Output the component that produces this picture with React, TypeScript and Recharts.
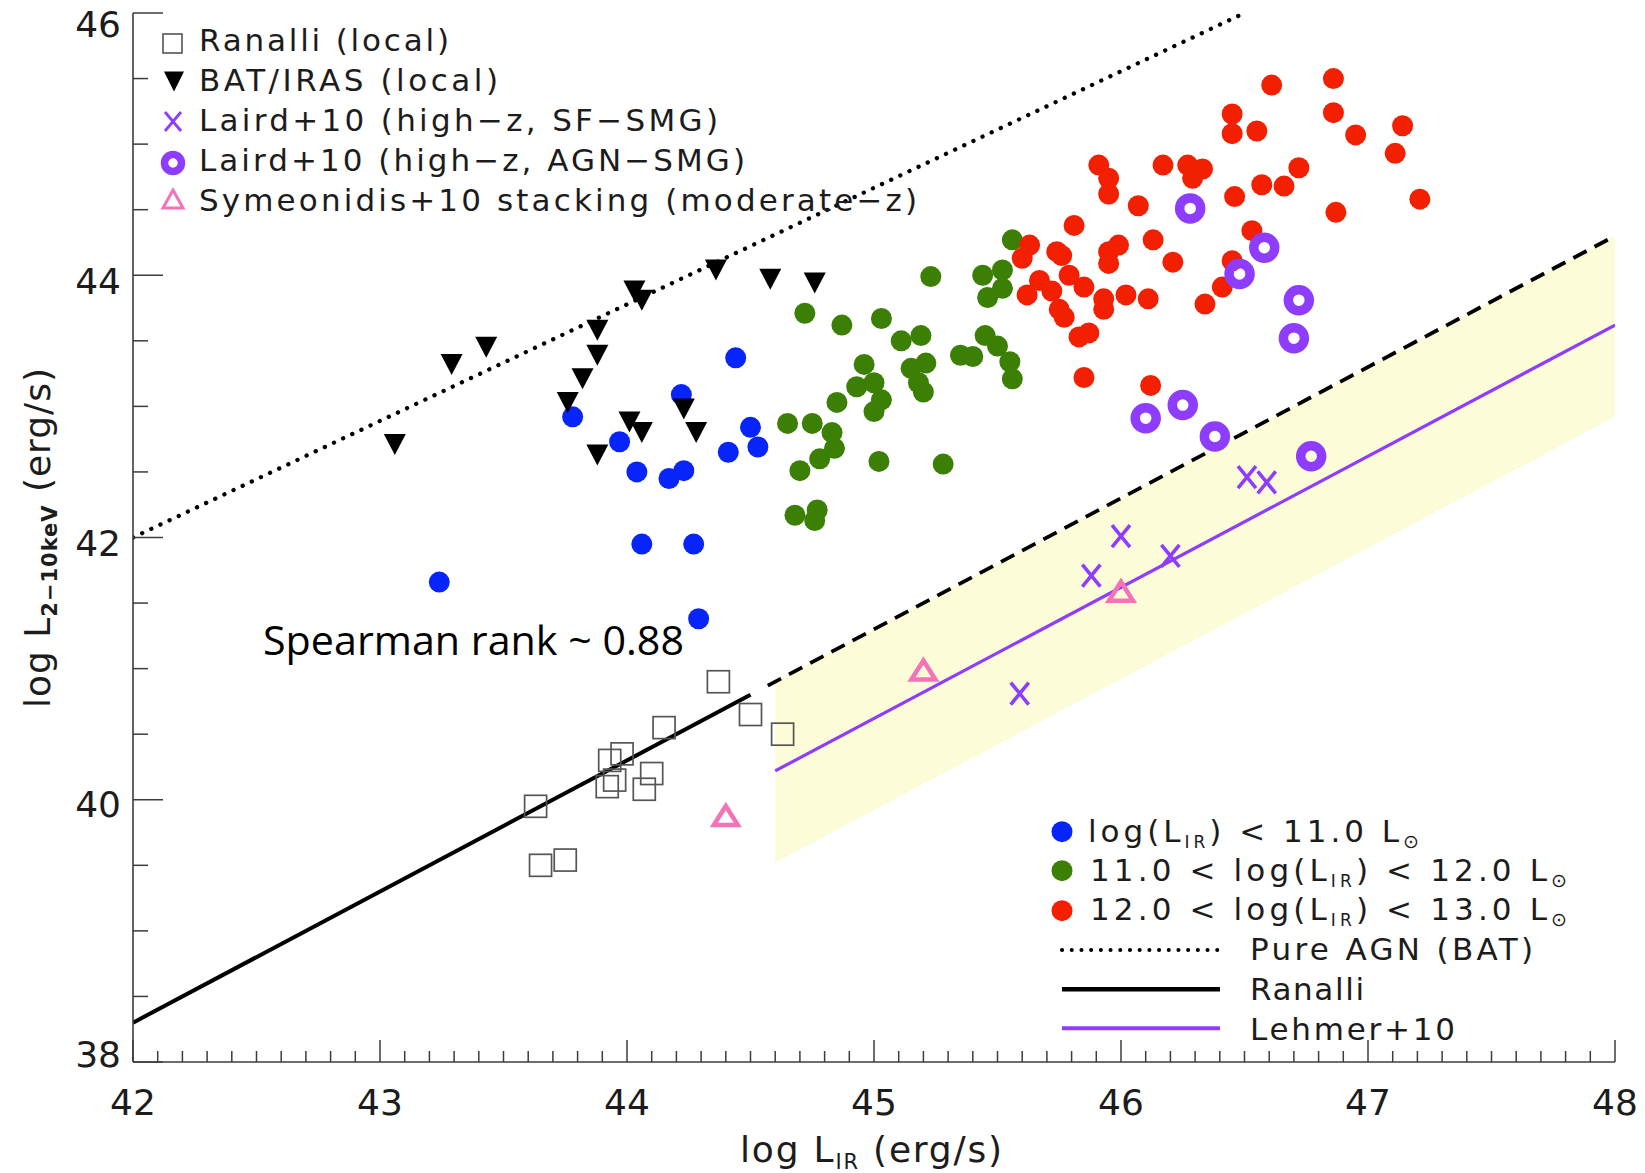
import React from 'react';
import { ComposedChart, XAxis, YAxis, Scatter, Line, Area } from 'recharts';

type Pt = [number, number];

// log L_IR (erg/s), log L_2-10keV (erg/s)
const lowLirPoints: Pt[] = [
  [43.24, 41.66], [43.78, 42.92], [43.97, 42.73], [44.04, 42.5], [44.06, 41.95],
  [44.17, 42.45], [44.22, 43.09], [44.23, 42.51], [44.27, 41.95], [44.29, 41.38],
  [44.41, 42.65], [44.44, 43.37], [44.5, 42.84], [44.53, 42.69],
];

const midLirPoints: Pt[] = [
  [44.65, 42.87], [44.68, 42.17], [44.7, 42.51], [44.72, 43.71], [44.75, 42.87],
  [44.76, 42.13], [44.77, 42.21], [44.78, 42.6], [44.83, 42.8], [44.84, 42.68],
  [44.85, 43.03], [44.87, 43.62], [44.93, 43.15], [44.96, 43.32], [45.0, 43.18],
  [45.0, 42.96], [45.02, 42.58], [45.03, 43.05], [45.03, 43.67], [45.11, 43.5],
  [45.15, 43.29], [45.18, 43.18], [45.19, 43.54], [45.2, 43.11], [45.21, 43.33],
  [45.23, 43.99], [45.28, 42.56], [45.35, 43.39], [45.4, 43.38], [45.44, 44.0],
  [45.45, 43.54], [45.46, 43.83], [45.5, 43.46], [45.52, 43.9], [45.52, 44.04],
  [45.55, 43.34], [45.56, 43.21], [45.56, 44.27],
];

const highLirPoints: Pt[] = [
  [45.6, 44.13], [45.62, 43.85], [45.63, 44.23], [45.67, 43.96], [45.72, 43.88],
  [45.74, 44.18], [45.76, 44.15], [45.75, 43.74], [45.77, 43.68], [45.79, 44.0],
  [45.81, 44.38], [45.83, 43.53], [45.87, 43.56], [45.85, 43.91], [45.85, 43.22],
  [45.91, 44.84], [45.95, 44.74], [45.95, 44.62], [45.93, 43.82], [45.93, 43.74],
  [45.95, 44.18], [45.99, 44.23], [45.95, 44.09], [46.02, 43.85], [46.07, 44.53],
  [46.11, 43.82], [46.12, 43.16], [46.13, 44.27], [46.17, 44.84], [46.21, 44.1],
  [46.27, 44.84], [46.29, 44.74], [46.33, 44.81], [46.34, 43.78], [46.41, 43.91],
  [46.45, 44.11], [46.46, 44.6], [46.45, 45.23], [46.45, 45.08], [46.53, 44.34],
  [46.55, 45.1], [46.57, 44.69], [46.61, 45.45], [46.66, 44.68], [46.72, 44.82],
  [46.86, 45.5], [46.86, 45.24], [46.87, 44.48], [46.95, 45.07], [47.11, 44.93],
  [47.14, 45.14], [47.21, 44.58],
];

const ranalliLocal: Pt[] = [
  [43.63, 39.95], [43.65, 39.5], [43.75, 39.54], [43.92, 40.1], [43.93, 40.3],
  [43.95, 40.15], [43.98, 40.35], [44.07, 40.08], [44.1, 40.2], [44.15, 40.55],
  [44.37, 40.9], [44.5, 40.65], [44.63, 40.5],
];

const batIrasLocal: Pt[] = [
  [43.06, 42.71], [43.29, 43.32], [43.43, 43.45], [43.76, 43.03], [43.82, 43.21],
  [43.88, 43.39], [43.88, 43.58], [43.88, 42.63], [44.01, 42.88], [44.03, 43.88],
  [44.06, 42.8], [44.06, 43.81], [44.23, 42.98], [44.28, 42.8], [44.36, 44.04],
  [44.58, 43.97], [44.76, 43.94],
];

const lairdSfSmg: Pt[] = [
  [45.59, 40.81], [45.88, 41.71], [46.0, 42.01], [46.2, 41.86], [46.51, 42.46], [46.59, 42.42],
];

const lairdAgnSmg: Pt[] = [
  [46.1, 42.91], [46.25, 43.01], [46.28, 44.51], [46.38, 42.77], [46.48, 44.01],
  [46.58, 44.21], [46.7, 43.52], [46.72, 43.81], [46.77, 42.62],
];

const symeonidisStack: Pt[] = [[44.4, 39.88], [45.2, 40.99], [46.0, 41.59]];

// relations
const pureAgnRelation: Pt[] = [[42, 42.0], [46.5, 46.0]];
const ranalliRelation: Pt[] = [[42, 38.3], [44.5, 40.8]];
const ranalliExtrapolation: Pt[] = [[44.57, 40.87], [48, 44.3]];
const lehmerRelation: Pt[] = [[44.6, 40.22], [48, 43.62]];
const lehmerBandX = [44.6, 48];
const lehmerBandLow = [39.52, 42.92];
const lehmerBandHigh = [40.9, 44.3];

const xMajorTicks = [42, 43, 44, 45, 46, 47, 48];
const yMajorTicks = [38, 40, 42, 44, 46];

const xTicks: number[] = [];
xMajorTicks.forEach((m, i) => {
  if (i === xMajorTicks.length - 1) { xTicks.push(m); return; }
  for (let k = 0; k < 10; k++) xTicks.push(Math.round((m + k / 10) * 10) / 10);
});
const yTicks: number[] = [];
yMajorTicks.forEach((m, i) => {
  if (i === yMajorTicks.length - 1) { yTicks.push(m); return; }
  for (let k = 0; k < 4; k++) yTicks.push(m + k / 2);
});

const rows = (pts: Pt[]) => pts.map(([x, y]) => ({ x, y }));
const bandRows = lehmerBandX.map((x, i) => ({ x, range: [lehmerBandLow[i], lehmerBandHigh[i]] }));

const BLUE = '#0724fb';
const GREEN = '#3b7f04';
const RED = '#f21f00';
const PURPLE = '#8e3dff';
const PINK = '#f472b6';
const BAND = '#fdfcd8';
const FRAME = '#3c3c3c';
const INK = '#1c1c1c';
const FONT = '"DejaVu Sans", sans-serif';

const filledDot = (fill: string) => (p: any) => <circle cx={p.cx} cy={p.cy} r={10.5} fill={fill} />;
const downTriangle = (p: any) => (
  <path d={`M${p.cx - 11},${p.cy - 10.5} L${p.cx + 11},${p.cy - 10.5} L${p.cx},${p.cy + 10.5} Z`} fill="#000" />
);
const hollowSquare = (p: any) => (
  <rect x={p.cx - 11} y={p.cy - 11} width={22} height={22} fill="none" stroke="#555" strokeWidth={1.7} />
);
const ring = (p: any) => <circle cx={p.cx} cy={p.cy} r={10.5} fill="none" stroke={PURPLE} strokeWidth={9.5} />;
const cross = (p: any) => (
  <path
    d={`M${p.cx - 9},${p.cy - 11} L${p.cx + 9},${p.cy + 11} M${p.cx + 9},${p.cy - 11} L${p.cx - 9},${p.cy + 11}`}
    stroke={PURPLE} strokeWidth={3.6} fill="none"
  />
);
const upTriangle = (p: any) => (
  <path d={`M${p.cx},${p.cy - 9.5} L${p.cx + 12},${p.cy + 9.5} L${p.cx - 12},${p.cy + 9.5} Z`}
    fill="none" stroke={PINK} strokeWidth={4.5} />
);

const BottomTick = (p: any) => {
  const v = p.payload.value;
  const major = Number.isInteger(v);
  return (
    <g>
      <line x1={p.x} x2={p.x} y1={p.y} y2={p.y - (major ? 22 : 11)} stroke={FRAME} strokeWidth={1.5} />
      {major && (
        <text x={p.x} y={p.y + 53} textAnchor="middle" fontFamily={FONT} fontSize={36} fill={INK}>{v}</text>
      )}
    </g>
  );
};
const TopTick = (p: any) => {
  const v = p.payload.value;
  const major = Number.isInteger(v);
  return <line x1={p.x} x2={p.x} y1={p.y} y2={p.y + (major ? 22 : 10)} stroke={FRAME} strokeWidth={1.5} />;
};
const yLabelShift: Record<number, number> = { 46: 24, 44: 19, 42: 18, 40: 17, 38: 5 };
const LeftTick = (p: any) => {
  const v = p.payload.value;
  const major = v % 2 === 0;
  return (
    <g>
      <line x1={p.x} x2={p.x + (major ? 30 : 15)} y1={p.y} y2={p.y} stroke={FRAME} strokeWidth={1.5} />
      {major && (
        <text x={p.x - 12} y={p.y + yLabelShift[v]} textAnchor="end" fontFamily={FONT} fontSize={36} fill={INK}>{v}</text>
      )}
    </g>
  );
};
const RightTick = (p: any) => {
  const v = p.payload.value;
  const major = v % 2 === 0;
  return <line x1={p.x} x2={p.x - (major ? 30 : 15)} y1={p.y} y2={p.y} stroke={FRAME} strokeWidth={1.5} />;
};

const axisLine = { stroke: FRAME, strokeWidth: 1.6 };

const SUN = '\u2299';

function Overlay() {
  const t = { fontFamily: FONT, fontSize: 31, fill: INK };
  const legendRows = [
    { label: 'Ranalli (local)', y: 50.5, len: 250 },
    { label: 'BAT/IRAS (local)', y: 90.5, len: 299 },
    { label: 'Laird+10 (high\u2212z, SF\u2212SMG)', y: 130.5, len: 519 },
    { label: 'Laird+10 (high\u2212z, AGN\u2212SMG)', y: 170.5, len: 546 },
    { label: 'Symeonidis+10 stacking (moderate\u2212z)', y: 210.5, len: 718 },
  ];
  const rangeRows = [
    { lead: '', lo: '', hi: '11.0', y: 842, x: 1088, len: 331 },
    { lead: '11.0 < ', lo: '', hi: '12.0', y: 881, x: 1090, len: 477 },
    { lead: '12.0 < ', lo: '', hi: '13.0', y: 920, x: 1090, len: 477 },
  ];
  return (
    <svg width={1645} height={1173} style={{ position: 'absolute', left: 0, top: 0, pointerEvents: 'none' }}>
      {/* upper-left legend */}
      <rect x={163} y={34} width={19} height={19} fill="none" stroke="#555" strokeWidth={1.6} />
      <path d="M164,71.5 L184,71.5 L174,91.5 Z" fill="#000" />
      <path d="M165,112 L181,131 M181,112 L165,131" stroke={PURPLE} strokeWidth={2.8} fill="none" />
      <circle cx={173} cy={163} r={8.5} fill="none" stroke={PURPLE} strokeWidth={7.5} />
      <path d="M173,190 L183,208 L163,208 Z" fill="none" stroke={PINK} strokeWidth={3} />
      {legendRows.map((r) => (
        <text key={r.label} x={199} y={r.y} textLength={r.len} {...t}>{r.label}</text>
      ))}

      {/* lower-right legend */}
      <circle cx={1062} cy={831.7} r={10.5} fill={BLUE} />
      <circle cx={1062} cy={870.7} r={10.5} fill={GREEN} />
      <circle cx={1062} cy={910.7} r={10.5} fill={RED} />
      <line x1={1062} x2={1220} y1={950} y2={950} stroke="#000" strokeWidth={4} strokeDasharray="0.1 9.6" strokeLinecap="round" />
      <line x1={1062} x2={1220} y1={989.3} y2={989.3} stroke="#000" strokeWidth={4.5} />
      <line x1={1062} x2={1220} y1={1028.3} y2={1028.3} stroke={PURPLE} strokeWidth={4} />
      {rangeRows.map((r) => (
        <text key={r.y} x={r.x} y={r.y} textLength={r.len} {...t}>
          {r.lead + 'log(L'}
          <tspan fontSize={17} dy={6}>IR</tspan>
          <tspan dy={-6}>{') < ' + r.hi + ' L'}</tspan>
          <tspan fontSize={19} dy={6}>{SUN}</tspan>
        </text>
      ))}
      <text x={1250} y={960} textLength={283} {...t}>Pure AGN (BAT)</text>
      <text x={1250} y={1000} textLength={114} {...t}>Ranalli</text>
      <text x={1250} y={1040} textLength={205} {...t}>Lehmer+10</text>

      {/* annotation */}
      <text x={263} y={655} textLength={421} lengthAdjust="spacingAndGlyphs" fontFamily='"Open Sans", sans-serif' fontSize={40} fill="#000">
        Spearman rank ~ 0.88
      </text>

      {/* axis titles */}
      <text x={740} y={1162} textLength={262} fontFamily={FONT} fontSize={36} fill={INK}>
        {'log L'}
        <tspan fontSize={21} dy={7}>IR</tspan>
        <tspan dy={-7}>{' (erg/s)'}</tspan>
      </text>
      <text transform="translate(50 538) rotate(-90)" x={0} y={0} textAnchor="middle" textLength={340} fontFamily={FONT} fontSize={36} fill={INK}>
        {'log L'}
        <tspan fontSize={21} fontWeight="bold" dy={7}>{'2\u221210keV'}</tspan>
        <tspan dy={-7}>{' (erg/s)'}</tspan>
      </text>
    </svg>
  );
}

export default function App() {
  return (
    <div style={{ position: 'absolute', left: 0, top: 0, width: 1645, height: 1173, background: '#fff' }}>
      <ComposedChart width={1645} height={1173} margin={{ top: 13, right: 30, bottom: 0, left: 0 }}>
        <XAxis xAxisId="b" type="number" dataKey="x" domain={[42, 48]} allowDataOverflow ticks={xTicks} interval={0}
          height={111} tickSize={0} tickMargin={0} tickLine={false} axisLine={axisLine} tick={(p: any) => <BottomTick {...p} />} />
        <XAxis xAxisId="t" orientation="top" type="number" dataKey="x" domain={[42, 48]} allowDataOverflow ticks={xTicks} interval={0}
          height={0} tickSize={0} tickMargin={0} tickLine={false} axisLine={axisLine} tick={(p: any) => <TopTick {...p} />} />
        <YAxis yAxisId="l" type="number" domain={[38, 46]} allowDataOverflow ticks={yTicks} interval={0}
          width={133} tickSize={0} tickMargin={0} tickLine={false} axisLine={axisLine} tick={(p: any) => <LeftTick {...p} />} />
        <YAxis yAxisId="r" orientation="right" type="number" domain={[38, 46]} allowDataOverflow ticks={yTicks} interval={0}
          width={0} tickSize={0} tickMargin={0} tickLine={false} axisLine={axisLine} tick={(p: any) => <RightTick {...p} />} />

        <Area data={bandRows} dataKey="range" xAxisId="b" yAxisId="l" type="linear" fill={BAND} fillOpacity={1}
          stroke="none" isAnimationActive={false} dot={false} activeDot={false} />

        <Line data={rows(pureAgnRelation)} dataKey="y" xAxisId="b" yAxisId="l" type="linear" stroke="#000" strokeWidth={4.3}
          strokeDasharray="0.1 10" strokeLinecap="round" dot={false} activeDot={false} isAnimationActive={false} />
        <Line data={rows(ranalliRelation)} dataKey="y" xAxisId="b" yAxisId="l" type="linear" stroke="#000" strokeWidth={4}
          dot={false} activeDot={false} isAnimationActive={false} />
        <Line data={rows(ranalliExtrapolation)} dataKey="y" xAxisId="b" yAxisId="l" type="linear" stroke="#000" strokeWidth={3.8}
          strokeDasharray="15 9" dot={false} activeDot={false} isAnimationActive={false} />
        <Line data={rows(lehmerRelation)} dataKey="y" xAxisId="b" yAxisId="l" type="linear" stroke={PURPLE} strokeWidth={3.2}
          dot={false} activeDot={false} isAnimationActive={false} />

        <Scatter data={rows(ranalliLocal)} dataKey="y" xAxisId="b" yAxisId="l" shape={hollowSquare} isAnimationActive={false} />
        <Scatter data={rows(midLirPoints)} dataKey="y" xAxisId="b" yAxisId="l" shape={filledDot(GREEN)} isAnimationActive={false} />
        <Scatter data={rows(lowLirPoints)} dataKey="y" xAxisId="b" yAxisId="l" shape={filledDot(BLUE)} isAnimationActive={false} />
        <Scatter data={rows(highLirPoints)} dataKey="y" xAxisId="b" yAxisId="l" shape={filledDot(RED)} isAnimationActive={false} />
        <Scatter data={rows(batIrasLocal)} dataKey="y" xAxisId="b" yAxisId="l" shape={downTriangle} isAnimationActive={false} />
        <Scatter data={rows(lairdAgnSmg)} dataKey="y" xAxisId="b" yAxisId="l" shape={ring} isAnimationActive={false} />
        <Scatter data={rows(lairdSfSmg)} dataKey="y" xAxisId="b" yAxisId="l" shape={cross} isAnimationActive={false} />
        <Scatter data={rows(symeonidisStack)} dataKey="y" xAxisId="b" yAxisId="l" shape={upTriangle} isAnimationActive={false} />
      </ComposedChart>
      <Overlay />
    </div>
  );
}
